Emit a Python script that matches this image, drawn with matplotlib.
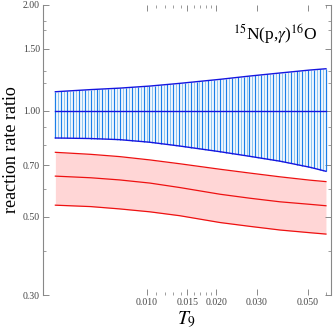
import numpy as np
import matplotlib
matplotlib.use("Agg")
import matplotlib.pyplot as plt
from matplotlib.ticker import FixedLocator, NullFormatter, FixedFormatter

plt.rcParams['font.family'] = ['Liberation Serif', 'DejaVu Serif']
plt.rcParams['mathtext.fontset'] = 'stix'

# values
T9 = [0.0040, 0.0057, 0.0076, 0.0103, 0.0139, 0.0208, 0.0281, 0.0379, 0.0511, 0.0600]
blue_hi = [1.134, 1.150, 1.161, 1.177, 1.198, 1.230, 1.257, 1.282, 1.307, 1.318]
blue_mid = [1.0, 1.0, 1.0, 1.0, 1.0, 1.0, 1.0, 1.0, 1.0, 1.0]
blue_lo = [0.838, 0.835, 0.829, 0.815, 0.795, 0.766, 0.743, 0.720, 0.692, 0.674]
red_hi = [0.763, 0.753, 0.742, 0.726, 0.708, 0.683, 0.666, 0.650, 0.636, 0.630]
red_mid = [0.653, 0.646, 0.637, 0.624, 0.606, 0.580, 0.565, 0.552, 0.543, 0.538]
red_lo = [0.540, 0.535, 0.527, 0.517, 0.504, 0.482, 0.470, 0.459, 0.451, 0.447]

x_major = [0.010, 0.015, 0.020, 0.030, 0.050]
x_labels = ["0.010", "0.015", "0.020", "0.030", "0.050"]
x_minor = [0.011, 0.012, 0.013, 0.014, 0.016, 0.017, 0.018, 0.019, 0.060]
y_major = [0.30, 0.50, 0.70, 1.00, 1.50, 2.00]
y_labels = ["0.30", "0.50", "0.70", "1.00", "1.50", "2.00"]
y_minor = [0.40, 0.60, 0.80, 0.90, 1.20, 1.30, 1.70, 1.80]

fig = plt.figure(figsize=(3.35, 3.33), dpi=100)
ax = fig.add_axes([0.128, 0.114, 0.860, 0.871])
ax.set_xscale('log')
ax.set_yscale('log')

# red band
ax.fill_between(T9, red_lo, red_hi, color='#ffd6d6', lw=0)
for ys in (red_hi, red_mid, red_lo):
    ax.plot(T9, ys, color='#ee1111', lw=0.9)

# blue band drawn as vertical hatching
lx = np.log(T9)
xs = np.geomspace(T9[0], T9[-1], 93)
lo = np.exp(np.interp(np.log(xs), lx, np.log(blue_lo)))
hi = np.exp(np.interp(np.log(xs), lx, np.log(blue_hi)))
cols = ['#1a7fe8' if i % 2 == 0 else '#8fc6f0' for i in range(len(xs))]
ax.vlines(xs, lo, hi, colors=cols, lw=0.9)
for ys in (blue_hi, blue_mid, blue_lo):
    ax.plot(T9, ys, color='#1515e0', lw=1.0)

ax.set_xlim(0.00353, 0.0631)
ax.set_ylim(0.30, 2.00)

ax.xaxis.set_major_locator(FixedLocator(x_major))
ax.xaxis.set_major_formatter(FixedFormatter(x_labels))
ax.xaxis.set_minor_locator(FixedLocator(x_minor))
ax.xaxis.set_minor_formatter(NullFormatter())
ax.yaxis.set_major_locator(FixedLocator(y_major))
ax.yaxis.set_major_formatter(FixedFormatter(y_labels))
ax.yaxis.set_minor_locator(FixedLocator(y_minor))
ax.yaxis.set_minor_formatter(NullFormatter())

for side in ('top', 'bottom'):
    ax.spines[side].set_visible(False)
for side in ('left', 'right'):
    ax.spines[side].set_color('#888888')
    ax.spines[side].set_linewidth(0.8)

ax.tick_params(which='both', direction='in', top=True, right=True,
               color='#777777', labelsize=7, labelcolor='#444444', pad=2)
ax.tick_params(which='major', length=4, width=0.6)
ax.tick_params(which='minor', length=2, width=0.5)

ax.set_ylabel("reaction rate ratio", fontsize=13, labelpad=2)
ax.set_xlabel(r"$T_9$", fontsize=14, labelpad=2)
ax.text(0.955, 0.90, r"$^{15}$N(p,$\gamma$)$^{16}$O", transform=ax.transAxes,
        ha='right', va='center', fontsize=12.5)

fig.savefig("out.png", dpi=100)
